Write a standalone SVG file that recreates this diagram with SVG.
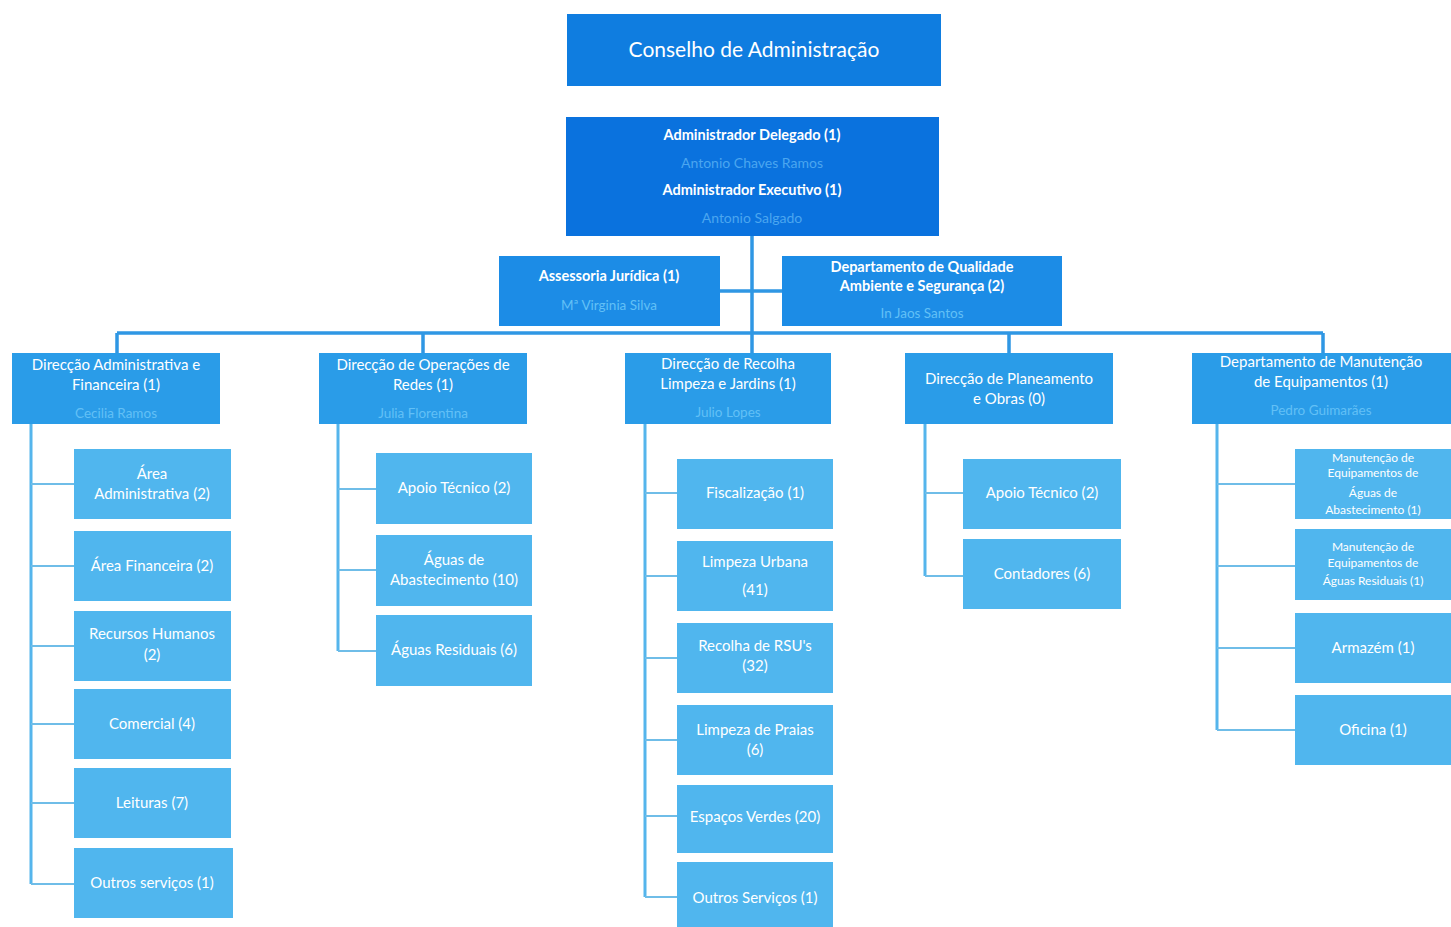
<svg xmlns="http://www.w3.org/2000/svg" width="1451" height="927" viewBox="0 0 1451 927">
<style>
text{font-family:Lato,"Open Sans","Liberation Sans",sans-serif;fill:#ffffff;text-anchor:middle;}
.top{fill:#0f7de0;}
.adm{fill:#0a72de;}
.mid{fill:#1c8ce6;}
.dir{fill:#2a9ce8;}
.sub{fill:#50b6ee;}
.t20{font-size:21px;}
.b{font-size:14.5px;font-weight:bold;}
.n{font-size:14px;fill:#4aa6f0;}
.d{font-size:15px;}
.dn{font-size:13.5px;fill:#62c0f6;}
.s{font-size:15px;}
.xs{font-size:12px;}
.main{stroke:#2f97e4;stroke-width:3.5;fill:none;}
.br{stroke:#55b5ec;stroke-width:3;fill:none;}
.tick{stroke:#6fbde8;stroke-width:2;fill:none;}
</style>
<rect width="1451" height="927" fill="#ffffff"/>
<g id="connectors">
<path class="main" d="M752 236V333M117 333H1323M117 333V353M423 333V353M752 333V353M1009 333V353M1323 333V353M720 291H782"/>
<path class="br" d="M31 424V884M338 424V651M645 424V897M925 424V576M1217 424V730"/>
<path class="tick" d="M31 484H75M31 566H75M31 646H75M31 724H75M31 803H75M31 884H75"/>
<path class="tick" d="M338 489H376M338 570H376M338 651H376"/>
<path class="tick" d="M645 493H677M645 576H677M645 658H677M645 740H677M645 816H677M645 897H677"/>
<path class="tick" d="M925 493H963M925 576H963"/>
<path class="tick" d="M1217 484H1295M1217 566H1295M1217 648H1295M1217 730H1295"/>
</g>
<g id="conselho"><rect class="top" x="567" y="14" width="374" height="72"/><text class="t20" x="754" y="57">Conselho de Administração</text></g>
<g id="administradores"><rect class="adm" x="566" y="117" width="373" height="119"/>
<text class="b" x="752" y="140">Administrador Delegado (1)</text>
<text class="n" x="752" y="168">Antonio Chaves Ramos</text>
<text class="b" x="752" y="195">Administrador Executivo (1)</text>
<text class="n" x="752" y="223">Antonio Salgado</text></g>
<g id="assessoria"><rect class="mid" x="499" y="256" width="221" height="70"/>
<text class="b" x="609" y="281">Assessoria Jurídica (1)</text>
<text class="dn" x="609" y="310">Mª Virginia Silva</text></g>
<g id="qualidade"><rect class="mid" x="782" y="256" width="280" height="70"/>
<text class="b" x="922" y="272">Departamento de Qualidade</text>
<text class="b" x="922" y="291">Ambiente e Segurança (2)</text>
<text class="dn" x="922" y="318">In Jaos Santos</text></g>
<g id="dir-adm"><rect class="dir" x="12" y="353" width="208" height="71"/>
<text class="d" x="116" y="370">Direcção Administrativa e</text>
<text class="d" x="116" y="390">Financeira (1)</text>
<text class="dn" x="116" y="418">Cecilia Ramos</text></g>
<g id="dir-ops"><rect class="dir" x="319" y="353" width="208" height="71"/>
<text class="d" x="423" y="370">Direcção de Operações de</text>
<text class="d" x="423" y="390">Redes (1)</text>
<text class="dn" x="423" y="418">Julia Florentina</text></g>
<g id="dir-recolha"><rect class="dir" x="625" y="353" width="206" height="71"/>
<text class="d" x="728" y="369">Direcção de Recolha</text>
<text class="d" x="728" y="389">Limpeza e Jardins (1)</text>
<text class="dn" x="728" y="417">Julio Lopes</text></g>
<g id="dir-plan"><rect class="dir" x="905" y="353" width="208" height="71"/>
<text class="d" x="1009" y="384">Direcção de Planeamento</text>
<text class="d" x="1009" y="404">e Obras (0)</text></g>
<g id="dep-man"><rect class="dir" x="1192" y="353" width="259" height="71"/>
<text class="d" x="1321" y="367">Departamento de Manutenção</text>
<text class="d" x="1321" y="387">de Equipamentos (1)</text>
<text class="dn" x="1321" y="415">Pedro Guimarães</text></g>
<g id="a1"><rect class="sub" x="74" y="449" width="157" height="70"/><text class="s" x="152" y="479">Área</text><text class="s" x="152" y="499">Administrativa (2)</text></g>
<g id="a2"><rect class="sub" x="74" y="531" width="157" height="70"/><text class="s" x="152" y="571">Área Financeira (2)</text></g>
<g id="a3"><rect class="sub" x="74" y="611" width="157" height="70"/><text class="s" x="152" y="639">Recursos Humanos</text><text class="s" x="152" y="660">(2)</text></g>
<g id="a4"><rect class="sub" x="74" y="689" width="157" height="70"/><text class="s" x="152" y="729">Comercial (4)</text></g>
<g id="a5"><rect class="sub" x="74" y="768" width="157" height="70"/><text class="s" x="152" y="808">Leituras (7)</text></g>
<g id="a6"><rect class="sub" x="74" y="848" width="159" height="70"/><text class="s" x="152" y="888">Outros serviços (1)</text></g>
<g id="b1"><rect class="sub" x="376" y="453" width="156" height="71"/><text class="s" x="454" y="493">Apoio Técnico (2)</text></g>
<g id="b2"><rect class="sub" x="376" y="535" width="156" height="71"/><text class="s" x="454" y="565">Águas de</text><text class="s" x="454" y="585">Abastecimento (10)</text></g>
<g id="b3"><rect class="sub" x="376" y="615" width="156" height="71"/><text class="s" x="454" y="655">Águas Residuais (6)</text></g>
<g id="c1"><rect class="sub" x="677" y="459" width="156" height="70"/><text class="s" x="755" y="498">Fiscalização (1)</text></g>
<g id="c2"><rect class="sub" x="677" y="541" width="156" height="70"/><text class="s" x="755" y="567">Limpeza Urbana</text><text class="s" x="755" y="595">(41)</text></g>
<g id="c3"><rect class="sub" x="677" y="623" width="156" height="70"/><text class="s" x="755" y="651">Recolha de RSU's</text><text class="s" x="755" y="671">(32)</text></g>
<g id="c4"><rect class="sub" x="677" y="705" width="156" height="70"/><text class="s" x="755" y="735">Limpeza de Praias</text><text class="s" x="755" y="755">(6)</text></g>
<g id="c5"><rect class="sub" x="677" y="785" width="156" height="68"/><text class="s" x="755" y="822">Espaços Verdes (20)</text></g>
<g id="c6"><rect class="sub" x="677" y="862" width="156" height="65"/><text class="s" x="755" y="903">Outros Serviços (1)</text></g>
<g id="d1"><rect class="sub" x="963" y="459" width="158" height="70"/><text class="s" x="1042" y="498">Apoio Técnico (2)</text></g>
<g id="d2"><rect class="sub" x="963" y="539" width="158" height="70"/><text class="s" x="1042" y="579">Contadores (6)</text></g>
<g id="e1"><rect class="sub" x="1295" y="449" width="156" height="70"/><text class="xs" x="1373" y="462">Manutenção de</text><text class="xs" x="1373" y="477">Equipamentos de</text><text class="xs" x="1373" y="497">Águas de</text><text class="xs" x="1373" y="514">Abastecimento (1)</text></g>
<g id="e2"><rect class="sub" x="1295" y="529" width="156" height="71"/><text class="xs" x="1373" y="551">Manutenção de</text><text class="xs" x="1373" y="567">Equipamentos de</text><text class="xs" x="1373" y="585">Águas Residuais (1)</text></g>
<g id="e3"><rect class="sub" x="1295" y="613" width="156" height="70"/><text class="s" x="1373" y="653">Armazém (1)</text></g>
<g id="e4"><rect class="sub" x="1295" y="695" width="156" height="70"/><text class="s" x="1373" y="735">Oficina (1)</text></g>
</svg>
